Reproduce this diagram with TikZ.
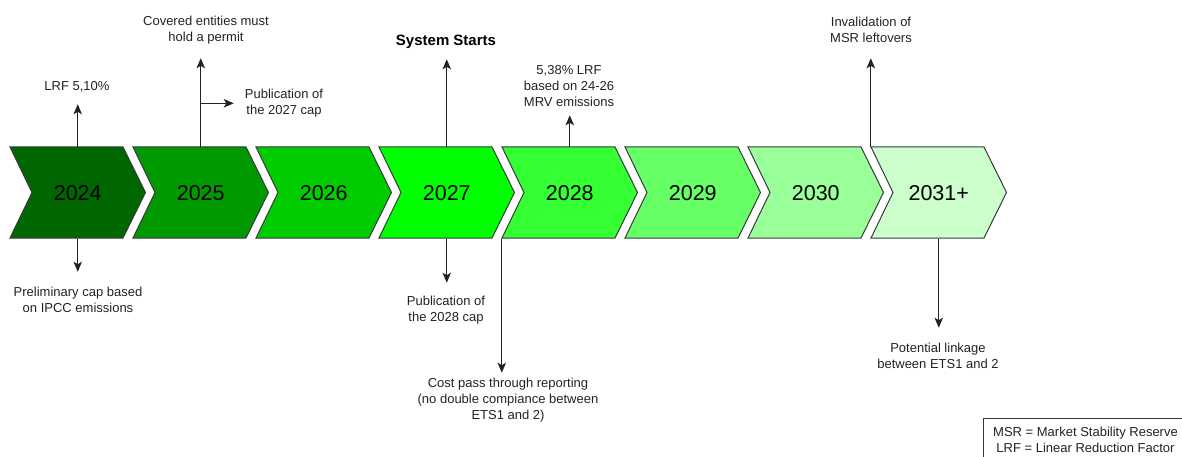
\documentclass[tikz,border=0pt]{standalone}
\usepackage{fontspec}
\setmainfont{Liberation Sans}
\usetikzlibrary{arrows.meta,calc}
\definecolor{cA}{HTML}{006600}
\definecolor{cB}{HTML}{009900}
\definecolor{cC}{HTML}{00CC00}
\definecolor{cD}{HTML}{00FF00}
\definecolor{cE}{HTML}{33FF33}
\definecolor{cF}{HTML}{66FF66}
\definecolor{cG}{HTML}{99FF99}
\definecolor{cH}{HTML}{CCFFCC}
\definecolor{bord}{HTML}{36393D}
\definecolor{txt}{HTML}{222222}
\begin{document}
\begin{tikzpicture}[x=1pt,y=-1pt,
  yearbox/.style={minimum width=135.5pt, minimum height=91pt, inner sep=0pt, font=\fontsize{21.5}{25}\selectfont, text=black},
  lbl/.style={font=\fontsize{13}{16}\selectfont, align=center, text=txt, inner sep=0pt},
  boldlbl/.style={font=\fontsize{15}{18}\selectfont\bfseries, align=center, text=black, inner sep=0pt},
  arr/.style={draw=txt, line width=1pt, -{Stealth[length=10pt,width=8.5pt,inset=2.5pt]}},
  chevron/.style={fill=#1, draw=bord, line width=1pt, line join=miter}
]
\useasboundingbox (0,0) rectangle (1182,457);
\clip (0,0) rectangle (1182,457);

% chevrons
\foreach \n/\i/\c/\t in {24/0/cA/2024, 25/1/cB/2025, 26/2/cC/2026, 27/3/cD/2027, 28/4/cE/2028, 29/5/cF/2029, 30/6/cG/2030, 31/7/cH/2031+}{
  \pgfmathsetmacro\L{10+123*\i}
  \path[chevron=\c] (\L,147) -- (\L+113,147) -- (\L+135.5,192.5) -- (\L+113,238) -- (\L,238) -- (\L+22,192.5) -- cycle;
  \node[yearbox] (y\n) at (\L+67.75,193) {\t};
}

% arrow end points
\coordinate (t24u) at ($(y24.north)+(0,-43)$);
\coordinate (t25u) at ($(y25.north)+(0,-89)$);
\coordinate (b25) at ($(y25.north)+(0,-44)$);
\coordinate (t25r) at ($(b25)+(33,0)$);
\coordinate (t27u) at ($(y27.north)+(0,-88)$);
\coordinate (t28u) at ($(y28.north)+(0,-32)$);
\coordinate (t31u) at ($(y31.north west)+(0,-89)$);
\coordinate (t24d) at ($(y24.south)+(0,33)$);
\coordinate (t27d) at ($(y27.south)+(0,44)$);
\coordinate (t28d) at ($(y28.south west)+(0,134)$);
\coordinate (t31d) at ($(y31.south)+(0,89)$);

% connectors
\draw[arr] (y24.north) -- (t24u);
\draw[arr] (y25.north) -- (t25u);
\draw[arr] (b25) -- (t25r);
\draw[arr] (y27.north) -- (t27u);
\draw[arr] (y28.north) -- (t28u);
\draw[arr] (y31.north west) -- (t31u);
\draw[arr] (y24.south) -- (t24d);
\draw[arr] (y27.south) -- (t27d);
\draw[arr] (y28.south west) -- (t28d);
\draw[arr] (y31.south) -- (t31d);

% labels
\node[lbl] (l24u) at (77,87) {LRF 5,10\%};
\node[lbl] (l25u) at (206,30) {Covered entities must\\hold a permit};
\node[lbl] (l25r) at (284,103) {Publication of\\the 2027 cap};
\node[boldlbl] (l27u) at (446,42) {System Starts};
\node[lbl] (l28u) at (569,86) {5,38\% LRF\\based on 24-26\\MRV emissions};
\node[lbl] (l31u) at (871,30) {Invalidation of\\MSR leftovers};
\node[lbl] (l24d) at (78,299.5) {Preliminary cap based\\on IPCC emissions};
\node[lbl] (l27d) at (446,310) {Publication of\\the 2028 cap};
\node[lbl] (l28d) at (508,400) {Cost pass through reporting\\(no double compiance between\\ETS1 and 2)};
\node[lbl] (l31d) at (938,356) {Potential linkage\\between ETS1 and 2};

% legend
\node[lbl, draw=bord, line width=0.8pt, minimum width=205pt, minimum height=44pt] (leg) at (1085.5,440) {MSR = Market Stability Reserve\\LRF = Linear Reduction Factor};
\end{tikzpicture}
\end{document}
